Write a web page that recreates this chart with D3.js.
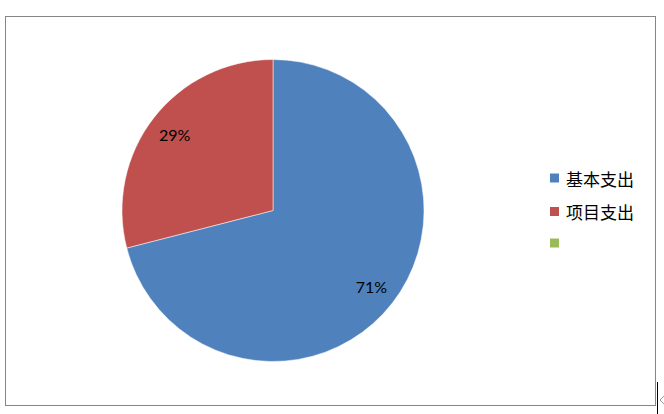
<!DOCTYPE html>
<html><head><meta charset="utf-8">
<script src="https://cdn.jsdelivr.net/npm/d3@7"></script>
<style>body{margin:0;background:#fff}svg{display:block}</style>
</head><body>
<svg id="c" width="664" height="414"></svg>
<script>
const categories = ["基本支出", "项目支出", ""];
const values = [71, 29, 0];
const labels = ["71%", "29%", ""];
const colors = ["#4F81BD", "#C0504D", "#9BBB59"];

const svg = d3.select("#c");
svg.append("rect").attr("x", 5.5).attr("y", 16.5).attr("width", 650).attr("height", 389)
  .attr("fill", "none").attr("stroke", "#868686").attr("stroke-width", 1);
// cursor artifacts at bottom-right
svg.append("line").attr("x1", 657.5).attr("x2", 657.5).attr("y1", 382).attr("y2", 414).attr("stroke", "#000");
svg.append("path").attr("d", "M665,395 L660,400 L665,405").attr("fill", "none").attr("stroke", "#999").attr("stroke-width", 1);

const cx = 273, cy = 210.5, r = 151;
const data = categories.map((c, i) => ({c, v: values[i], l: labels[i], col: colors[i]}));
const pie = d3.pie().value(d => d.v).sort(null).startAngle(0).endAngle(2 * Math.PI);
const arcs = pie(data);
const arc = d3.arc().innerRadius(0).outerRadius(r);
const labelArc = d3.arc().innerRadius(r * 0.825).outerRadius(r * 0.825);
const g = svg.append("g").attr("transform", `translate(${cx},${cy})`);
g.selectAll("path").data(arcs.filter(a => a.data.v > 0)).join("path")
  .attr("d", arc).attr("fill", d => d.data.col).attr("stroke", "#fff").attr("stroke-width", 0.5);
g.selectAll("text").data(arcs.filter(a => a.data.v > 0)).join("text")
  .attr("transform", d => `translate(${labelArc.centroid(d)})`)
  .attr("text-anchor", "middle").attr("dominant-baseline", "central")
  .attr("font-family", "Lato, Liberation Sans, sans-serif").attr("font-size", 16).attr("fill", "#000")
  .text(d => d.data.l);

const lg = svg.append("g");
const rowsY = [178, 211.5, 243];
data.forEach((d, i) => {
  lg.append("rect").attr("x", 550).attr("y", rowsY[i] - 4.5).attr("width", 9).attr("height", 9).attr("fill", d.col);
  lg.append("text").attr("x", 566).attr("y", rowsY[i]).attr("dominant-baseline", "central")
    .attr("font-family", "Noto Sans CJK SC, sans-serif").attr("font-size", 17).attr("fill", "#000").text(d.c);
});
</script>
</body></html>
